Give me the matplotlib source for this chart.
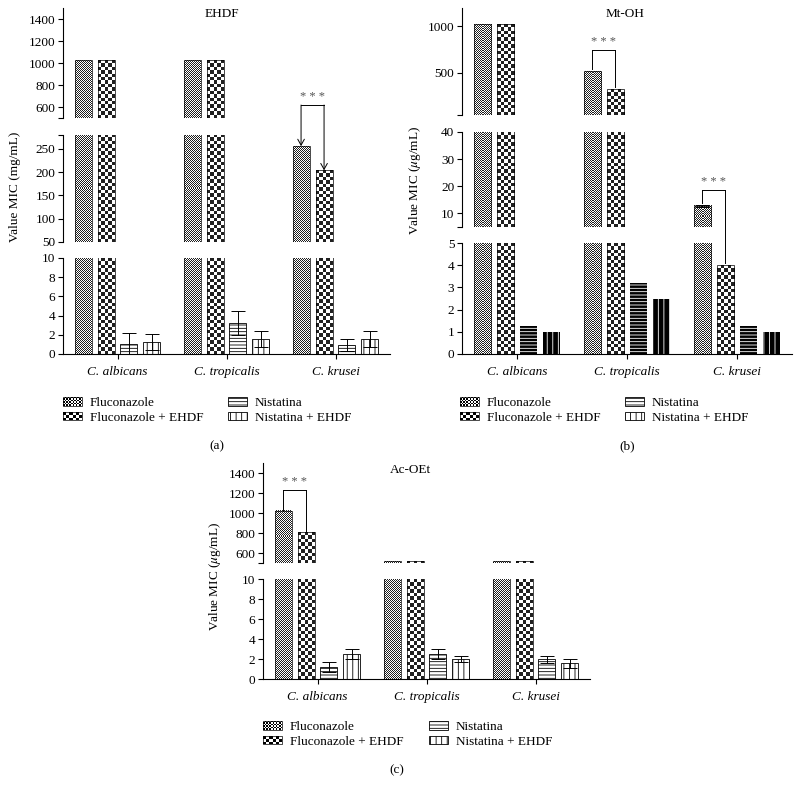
import numpy as np
import matplotlib
matplotlib.use("Agg")
import matplotlib.pyplot as plt
from matplotlib.patches import Patch, Rectangle
from matplotlib.legend_handler import HandlerBase

plt.rcParams["font.family"] = ["Liberation Serif", "DejaVu Serif"]
plt.rcParams["mathtext.fontset"] = "stix"
plt.rcParams["hatch.linewidth"] = 0.6
plt.rcParams["font.size"] = 9.5

categories = ["C. albicans", "C. tropicalis", "C. krusei"]
series = ["Fluconazole", "Fluconazole + EHDF", "Nistatina", "Nistatina + EHDF"]

# EHDF (a), mg/mL
ehdf_fluc = [1024, 1024, 256]
ehdf_fluc_ehdf = [1024, 1024, 204]
ehdf_nist = [1.0, 3.2, 0.95]
ehdf_nist_err = [1.2, 1.25, 0.6]
ehdf_nist_ehdf = [1.25, 1.55, 1.55]
ehdf_nist_ehdf_err = [0.85, 0.85, 0.85]

# Mt-OH (b), ug/mL
mtoh_fluc = [1024, 512, 12.8]
mtoh_fluc_err = [0, 0, 0.3]
mtoh_fluc_ehdf = [1024, 320, 4.0]
mtoh_nist = [1.25, 3.2, 1.25]
mtoh_nist_ehdf = [1.0, 2.5, 1.0]

# Ac-OEt (c), ug/mL
acoet_fluc = [1024, 520, 520]
acoet_fluc_ehdf = [810, 520, 520]
acoet_nist = [1.2, 2.5, 2.0]
acoet_nist_err = [0.5, 0.5, 0.35]
acoet_nist_ehdf = [2.5, 2.0, 1.6]
acoet_nist_ehdf_err = [0.5, 0.3, 0.45]

W, H = 800, 796
fig = plt.figure(figsize=(W / 100, H / 100), dpi=100)

# pattern per series: checker cell size in px (fine / coarse) or hatch string
CELLS = [1.0, 3.4, None, None]
HATCHES = [None, None, "-----", "|||"]
OFFSETS = [-0.316, -0.105, 0.105, 0.316]
BAR_W = 0.155


def px_rect(x0, x1, y_top, y_bot):
    return [x0 / W, 1 - y_bot / H, (x1 - x0) / W, (y_bot - y_top) / H]


def checker_fill(ax, x0, x1, y0, y1, cell):
    (dx0, dy0), (dx1, dy1) = ax.transData.transform([(x0, y0), (x1, y1)])
    nx = max(1, int(round((dx1 - dx0) / cell)))
    ny = max(1, int(round((dy1 - dy0) / cell)))
    board = np.indices((ny, nx)).sum(axis=0) % 2
    ax.imshow(board, cmap="gray", vmin=-0.15, vmax=1, extent=(x0, x1, y0, y1),
              origin="lower", aspect="auto", interpolation="nearest", zorder=2)


def draw_panel(xpx, segments, values, errors, dark=False):
    axes = []
    pos = np.arange(len(categories))
    for i, (ytop, ybot, ylim, ticks, labels) in enumerate(segments):
        ax = fig.add_axes(px_rect(xpx[0], xpx[1], ytop, ybot))
        ax.patch.set_visible(False)
        ax.set_xlim(-0.5, 2.5)
        ax.set_ylim(*ylim)
        lo, hi = ylim
        for k, vals in enumerate(values):
            xs = pos + OFFSETS[k]
            if CELLS[k] is not None:
                for x, v in zip(xs, vals):
                    y0, y1 = max(lo, 0), min(v, hi)
                    if y1 > y0:
                        checker_fill(ax, x - BAR_W / 2, x + BAR_W / 2, y0, y1, CELLS[k])
                ax.bar(xs, vals, BAR_W, fill=False, edgecolor="black", lw=0.5, zorder=3)
            elif dark:
                ax.bar(xs, vals, BAR_W, color="black", edgecolor="white", lw=0,
                       hatch=HATCHES[k], zorder=2)
            else:
                ax.bar(xs, vals, BAR_W, facecolor="white", edgecolor="black", lw=0.6,
                       hatch=HATCHES[k], zorder=2)
            if errors[k] is not None:
                err = np.asarray(errors[k])
                m = err > 0
                ax.errorbar(xs[m], np.asarray(vals)[m], yerr=err[m], fmt="none",
                            ecolor="black", elinewidth=0.7, capsize=5, capthick=0.7, zorder=4)
        ax.set_xlim(-0.5, 2.5)
        ax.set_ylim(*ylim)
        for s in ["top", "right"]:
            ax.spines[s].set_visible(False)
        ax.spines["left"].set_linewidth(0.8)
        ax.set_yticks(ticks, labels)
        ax.tick_params(axis="y", direction="out", length=3.5, width=0.8, pad=2, labelsize=9.5)
        if i < len(segments) - 1:
            ax.spines["bottom"].set_visible(False)
            ax.tick_params(axis="x", bottom=False, labelbottom=False)
        else:
            ax.spines["bottom"].set_linewidth(0.8)
            ax.set_xticks(pos, categories, fontstyle="italic")
            ax.tick_params(axis="x", direction="out", length=3.5, width=0.8, pad=5, labelsize=9.5)
        axes.append(ax)
    return axes


def to_axes(src, dst, x, y, dy=0.0):
    xd, yd = src.transData.transform((x, y))
    return dst.transData.inverted().transform((xd, yd + dy))


def bracket(line_ax, line_y, legs, arrows=False, gap=0.0):
    xs = []
    for src, x, y in legs:
        bx, by = to_axes(src, line_ax, x, y, gap)
        xs.append(bx)
        if arrows:
            line_ax.annotate("", xy=(bx, by), xytext=(bx, line_y), annotation_clip=False,
                             arrowprops=dict(arrowstyle="->,head_length=0.45,head_width=0.25",
                                             lw=0.7, shrinkA=0, shrinkB=0))
        else:
            line_ax.plot([bx, bx], [by, line_y], color="black", lw=0.7, clip_on=False)
    line_ax.plot(xs, [line_y, line_y], color="black", lw=0.7, clip_on=False)
    line_ax.annotate("* * *", xy=(np.mean(xs), line_y), xytext=(0, 1.5),
                     textcoords="offset points", ha="center", va="bottom",
                     fontsize=9, color="#555555", annotation_clip=False)


class CheckerHandler(HandlerBase):
    def __init__(self, cell_px):
        super().__init__()
        self.cell = cell_px * 0.72  # px -> points

    def create_artists(self, legend, orig_handle, xdescent, ydescent, width, height, fontsize, trans):
        nx = max(1, int(round(width / self.cell)))
        ny = max(1, int(round(height / self.cell)))
        cw, ch = width / nx, height / ny
        arts = [Rectangle((-xdescent, -ydescent), width, height, facecolor="white",
                          edgecolor="none", transform=trans)]
        for i in range(nx):
            for j in range(ny):
                if (i + j) % 2 == 0:
                    arts.append(Rectangle((-xdescent + i * cw, -ydescent + j * ch), cw, ch,
                                          facecolor="black", edgecolor="none", lw=0,
                                          antialiased=False, transform=trans))
        arts.append(Rectangle((-xdescent, -ydescent), width, height, fill=False,
                              edgecolor="black", lw=0.5, transform=trans))
        return arts


fine_handle = Patch(facecolor="white", edgecolor="black")
coarse_handle = Patch(facecolor="white", edgecolor="black")
handles = [fine_handle, coarse_handle,
           Patch(facecolor="white", edgecolor="black", lw=0.6, hatch=HATCHES[2]),
           Patch(facecolor="white", edgecolor="black", lw=0.6, hatch=HATCHES[3])]
handler_map = {fine_handle: CheckerHandler(1.6), coarse_handle: CheckerHandler(CELLS[1])}


def add_legend(x1, x2, ytop):
    for cols, x in (((0, 1), x1), ((2, 3), x2)):
        fig.legend([handles[c] for c in cols], [series[c] for c in cols],
                   loc="upper left", bbox_to_anchor=(x / W, 1 - ytop / H),
                   frameon=False, borderpad=0, borderaxespad=0, handlelength=1.45,
                   handleheight=0.65, handletextpad=0.6, labelspacing=0.2, fontsize=9.5,
                   handler_map=handler_map)


# (a) EHDF
ax_a = draw_panel(
    (63, 390),
    [(8, 118, (500, 1500), [500, 600, 800, 1000, 1200, 1400], ["", "600", "800", "1000", "1200", "1400"]),
     (135, 242, (50, 280), [50, 100, 150, 200, 250, 280], ["50", "100", "150", "200", "250", ""]),
     (258, 354, (0, 10), [0, 2, 4, 6, 8, 10], ["0", "2", "4", "6", "8", "10"])],
    [ehdf_fluc, ehdf_fluc_ehdf, ehdf_nist, ehdf_nist_ehdf],
    [None, None, ehdf_nist_err, ehdf_nist_ehdf_err])
ax_a[0].text(0.486, 0.945, "EHDF", transform=ax_a[0].transAxes, ha="center", va="center", fontsize=9.5)
bracket(ax_a[0], 618, [(ax_a[1], 2 + OFFSETS[0], ehdf_fluc[2]),
                       (ax_a[1], 2 + OFFSETS[1], ehdf_fluc_ehdf[2])], arrows=True)
fig.text(15 / W, 1 - 187 / H, "Value MIC (mg/mL)", rotation=90, ha="center", va="center", fontsize=9.5)

# (b) Mt-OH
ax_b = draw_panel(
    (462, 792),
    [(8, 115, (40, 1200), [40, 500, 1000], ["", "500", "1000"]),
     (132, 227, (5, 40), [5, 10, 20, 30, 40], ["", "10", "20", "30", "40"]),
     (243, 354, (0, 5), [0, 1, 2, 3, 4, 5], ["0", "1", "2", "3", "4", "5"])],
    [mtoh_fluc, mtoh_fluc_ehdf, mtoh_nist, mtoh_nist_ehdf],
    [mtoh_fluc_err, None, None, None], dark=True)
ax_b[0].text(0.494, 0.944, "Mt-OH", transform=ax_b[0].transAxes, ha="center", va="center", fontsize=9.5)
bracket(ax_b[0], 740, [(ax_b[0], 1 + OFFSETS[0], mtoh_fluc[1]),
                       (ax_b[0], 1 + OFFSETS[1], mtoh_fluc_ehdf[1])], gap=2.5)
bracket(ax_b[1], 18.7, [(ax_b[1], 2 + OFFSETS[0], mtoh_fluc[2] + mtoh_fluc_err[2]),
                        (ax_b[2], 2 + OFFSETS[1], mtoh_fluc_ehdf[2])], gap=2.0)
fig.text(415 / W, 1 - 180 / H, r"Value MIC ($\mu$g/mL)", rotation=90, ha="center", va="center", fontsize=9.5)

# (c) Ac-OEt
ax_c = draw_panel(
    (263, 590),
    [(463, 563, (500, 1500), [500, 600, 800, 1000, 1200, 1400], ["", "600", "800", "1000", "1200", "1400"]),
     (579, 679, (0, 10), [0, 2, 4, 6, 8, 10], ["0", "2", "4", "6", "8", "10"])],
    [acoet_fluc, acoet_fluc_ehdf, acoet_nist, acoet_nist_ehdf],
    [None, None, acoet_nist_err, acoet_nist_ehdf_err])
ax_c[0].text(0.45, 0.93, "Ac-OEt", transform=ax_c[0].transAxes, ha="center", va="center", fontsize=9.5)
bracket(ax_c[0], 1230, [(ax_c[0], 0 + OFFSETS[0], acoet_fluc[0]),
                        (ax_c[0], 0 + OFFSETS[1], acoet_fluc_ehdf[0])])
fig.text(215 / W, 1 - 576 / H, r"Value MIC ($\mu$g/mL)", rotation=90, ha="center", va="center", fontsize=9.5)

add_legend(63, 228, 397)
add_legend(460, 625, 397)
add_legend(263, 429, 721)

fig.text(217 / W, 1 - 446 / H, "(a)", ha="center", va="center", fontsize=9.5)
fig.text(627 / W, 1 - 446 / H, "(b)", ha="center", va="center", fontsize=9.5)
fig.text(397 / W, 1 - 770 / H, "(c)", ha="center", va="center", fontsize=9.5)

fig.savefig("out.png", dpi=100)
